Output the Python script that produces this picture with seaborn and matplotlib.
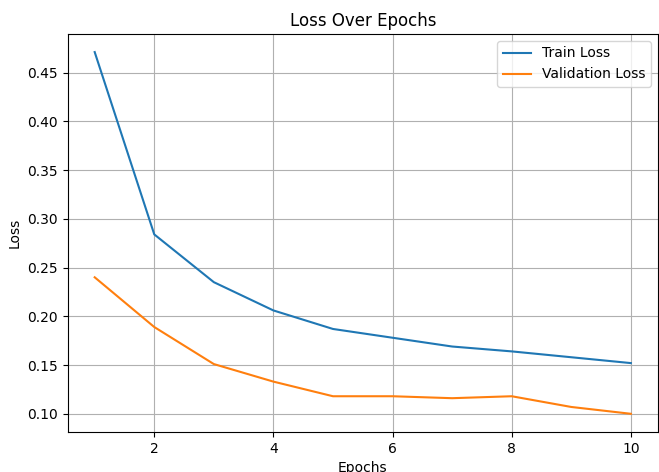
import numpy as np
import pandas as pd
import matplotlib
matplotlib.use("Agg")
import matplotlib.pyplot as plt
import seaborn as sns

epochs = [1, 2, 3, 4, 5, 6, 7, 8, 9, 10]
train_loss = [0.471, 0.284, 0.235, 0.206, 0.187, 0.178, 0.169, 0.164, 0.158, 0.152]
val_loss = [0.240, 0.189, 0.151, 0.133, 0.118, 0.118, 0.116, 0.118, 0.107, 0.100]

df = pd.DataFrame({'Epoch': epochs, 'Train Loss': train_loss, 'Validation Loss': val_loss})

fig, ax = plt.subplots(figsize=(6.59, 4.72), dpi=100)
fig.subplots_adjust(left=0.103, right=0.998, top=0.928, bottom=0.085)

sns.lineplot(data=df, x='Epoch', y='Train Loss', label='Train Loss', color='#1f77b4', ax=ax)
sns.lineplot(data=df, x='Epoch', y='Validation Loss', label='Validation Loss', color='#ff7f0e', ax=ax)

ax.set_title('Loss Over Epochs', fontsize=12)
ax.set_xlabel('Epochs')
ax.set_ylabel('Loss')
ax.grid(True, color='#b0b0b0', linewidth=0.8)
ax.legend(loc='upper right')

plt.savefig("out.png", dpi=100)
